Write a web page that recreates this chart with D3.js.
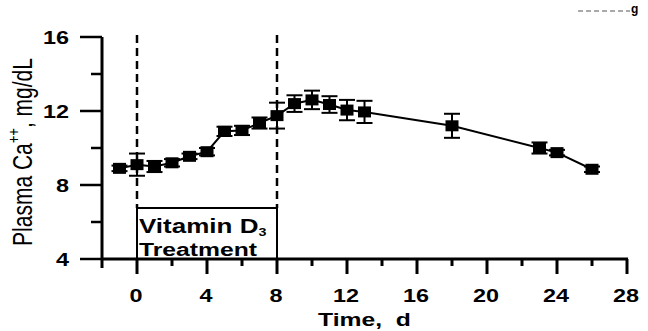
<!DOCTYPE html>
<html><head><meta charset="utf-8">
<script src="https://cdn.jsdelivr.net/npm/d3@7"></script>
<style>
html,body{margin:0;padding:0;background:#fff;}
svg{display:block;}
text{font-family:"Liberation Sans",Arial,sans-serif;fill:#000;}
</style></head>
<body>
<svg id="c" width="648" height="331"></svg>
<script>
// ---- data ----
const days   = [-1, 0, 1, 2, 3, 4, 5, 6, 7, 8, 9, 10, 11, 12, 13, 18, 23, 24, 26];
const means  = [8.9, 9.1, 9.0, 9.2, 9.55, 9.8, 10.9, 10.95, 11.35, 11.75, 12.4, 12.6, 12.35, 12.05, 11.95, 11.2, 10.0, 9.75, 8.85];
const errs   = [0.15, 0.6, 0.3, 0.2, 0.15, 0.2, 0.25, 0.25, 0.3, 0.7, 0.45, 0.5, 0.45, 0.55, 0.6, 0.65, 0.3, 0.15, 0.15];
const xTickLabels = [0, 4, 8, 12, 16, 20, 24, 28];
const xMinorTicks = [-2, 2, 6, 10, 14, 18, 22, 26];
const yTickLabels = [4, 8, 12, 16];
const yMinorTicks = [6, 10, 14];
const treatment = [0, 8];
const yTitle = ["Plasma Ca", "++", ", mg/dL"];
const xTitle = "Time,\u00a0 d";
const boxText = ["Vitamin D", "3", "Treatment"];

const svg = d3.select("#c");
const x = d3.scaleLinear().domain([-2, 28]).range([102, 627]);
const y = d3.scaleLinear().domain([4, 16]).range([259, 37]);
const SX = 1.3;

// axes lines
const g = svg.append("g").attr("stroke", "#000").attr("fill", "none");
g.append("line").attr("x1", x(-2)).attr("x2", x(-2)).attr("y1", y(16)).attr("y2", y(4) + 9).attr("stroke-width", 3);
g.append("line").attr("x1", x(-2) - 1).attr("x2", x(28)+1).attr("y1", y(4)).attr("y2", y(4)).attr("stroke-width", 3);
// y ticks
yTickLabels.forEach(v => g.append("line").attr("x1", x(-2) - 22).attr("x2", x(-2)).attr("y1", y(v)).attr("y2", y(v)).attr("stroke-width", 2.5));
yMinorTicks.forEach(v => g.append("line").attr("x1", x(-2) - 11).attr("x2", x(-2)).attr("y1", y(v)).attr("y2", y(v)).attr("stroke-width", 2.5));
// x ticks
xTickLabels.forEach(v => g.append("line").attr("x1", x(v)).attr("x2", x(v)).attr("y1", y(4)).attr("y2", y(4) + 15).attr("stroke-width", 3));
xMinorTicks.filter(v => v > -2).forEach(v => g.append("line").attr("x1", x(v)).attr("x2", x(v)).attr("y1", y(4)).attr("y2", y(4) + 7).attr("stroke-width", 3));

// dashed treatment lines + box
const boxTop = 208;
treatment.forEach(v => {
  g.append("line").attr("x1", x(v)).attr("x2", x(v)).attr("y1", 35).attr("y2", boxTop)
    .attr("stroke-width", 2.5).attr("stroke-dasharray", "8,5");
});
g.append("path").attr("stroke-width", 2)
  .attr("d", `M${x(treatment[0])},${y(4)}V${boxTop}H${x(treatment[1])}V${y(4)}`);

// tick labels
function stext(px, py, anchor, size, weight, str) {
  return svg.append("text").attr("transform", `translate(${px},${py}) scale(${SX},1)`)
    .attr("text-anchor", anchor).attr("font-size", size).attr("font-weight", weight).text(str);
}
yTickLabels.forEach(v => stext(69, y(v) + 6.5, "end", 18, "bold", v));
xTickLabels.forEach(v => stext(x(v) - 1, 302, "middle", 18, "bold", v));
stext(x(13), 326, "middle", 19, "bold", xTitle);

// y title
const yt = svg.append("text")
  .attr("transform", `translate(32,152) scale(${SX},1) rotate(-90)`)
  .attr("text-anchor", "middle").attr("font-size", 21);
yt.append("tspan").text(yTitle[0]);
yt.append("tspan").attr("dy", -10).attr("font-size", 13).text(yTitle[1]);
yt.append("tspan").attr("dy", 10).text(yTitle[2]);

// box text
const bt = svg.append("text").attr("transform", `translate(139,233) scale(${SX},1)`)
  .attr("font-size", 20).attr("font-weight", "bold");
bt.append("tspan").text(boxText[0]);
bt.append("tspan").attr("dy", 3).attr("font-size", 11).text(boxText[1]);
stext(139, 256, "start", 19, "bold", boxText[2]);

// data line
const data = days.map((d, i) => ({d, m: means[i], e: errs[i]}));
svg.append("path").datum(data).attr("fill", "none").attr("stroke", "#000").attr("stroke-width", 2)
  .attr("d", d3.line().x(p => x(p.d)).y(p => y(p.m)));
// error bars
const eb = svg.append("g").attr("stroke", "#000").attr("stroke-width", 2);
data.forEach(p => {
  eb.append("line").attr("x1", x(p.d)).attr("x2", x(p.d)).attr("y1", y(p.m - p.e)).attr("y2", y(p.m + p.e));
  [p.m - p.e, p.m + p.e].forEach(v => eb.append("line").attr("x1", x(p.d) - 8).attr("x2", x(p.d) + 8).attr("y1", y(v)).attr("y2", y(v)));
});
// markers
svg.append("g").selectAll("rect").data(data).join("rect")
  .attr("x", p => x(p.d) - 6.5).attr("y", p => y(p.m) - 5.5).attr("width", 13).attr("height", 11).attr("fill", "#000");

// scan artifact at top right
svg.append("line").attr("x1", 578).attr("x2", 630).attr("y1", 11).attr("y2", 11).attr("stroke", "#555").attr("stroke-width", 1).attr("stroke-dasharray", "5,3");
svg.append("text").attr("x", 631).attr("y", 13).attr("font-size", 12).attr("font-weight", "bold").text("g");
</script>
</body></html>
